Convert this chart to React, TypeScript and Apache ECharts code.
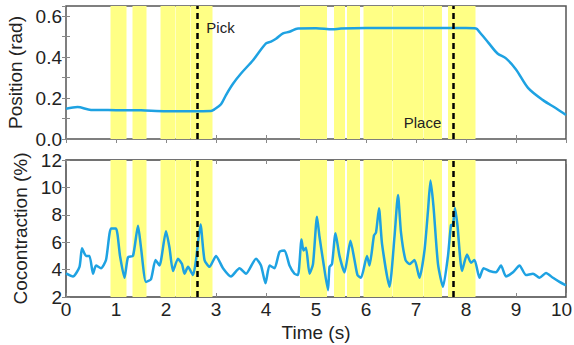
import React, { useEffect, useRef } from "react";
import * as echarts from "echarts";

const FONT = "Liberation Sans, Arial, Helvetica, sans-serif";

// Time (s) -> joint position (rad)
const position: [number, number][] = [
  [0, 0.148], [0.23, 0.156], [0.5, 0.142], [1.0, 0.141], [1.5, 0.14], [2.0, 0.136],
  [2.5, 0.136], [2.9, 0.137], [2.97, 0.145], [3.1, 0.17], [3.2, 0.215], [3.34, 0.27],
  [3.5, 0.32], [3.74, 0.385], [4.0, 0.467], [4.1, 0.476], [4.2, 0.49], [4.34, 0.516],
  [4.47, 0.524], [4.64, 0.54], [5.0, 0.541], [5.33, 0.536], [5.5, 0.54], [6.0, 0.542],
  [7.0, 0.542], [8.0, 0.542], [8.2, 0.54], [8.27, 0.523], [8.45, 0.47], [8.63, 0.418],
  [8.8, 0.394], [9.0, 0.34], [9.24, 0.25], [9.54, 0.19], [9.8, 0.15], [10, 0.117],
];

// Time (s) -> cocontraction (%)
const cocontraction: [number, number][] = [
  [0, 3.73], [0.14, 3.5], [0.27, 4.2], [0.32, 5.55], [0.4, 5.0], [0.47, 5.0], [0.54, 3.7],
  [0.6, 4.3], [0.7, 4.1], [0.8, 4.7], [0.9, 7.0], [1.0, 7.0], [1.08, 5.0], [1.17, 3.4],
  [1.24, 4.9], [1.34, 5.0], [1.44, 7.2], [1.5, 5.6], [1.6, 3.1], [1.7, 3.3], [1.79, 4.7],
  [1.87, 4.3], [2.0, 6.8], [2.07, 5.6], [2.14, 3.9], [2.24, 4.8], [2.32, 4.4], [2.37, 3.7],
  [2.44, 4.2], [2.54, 3.6], [2.6, 4.7], [2.69, 7.3], [2.77, 4.7], [2.87, 4.2], [3.0, 5.0],
  [3.14, 4.1], [3.3, 3.5], [3.47, 4.1], [3.6, 3.7], [3.8, 4.8], [3.9, 4.3], [3.99, 3.0],
  [4.07, 4.3], [4.17, 4.1], [4.27, 5.3], [4.37, 5.4], [4.47, 4.3], [4.57, 3.7], [4.64, 3.6],
  [4.71, 6.2], [4.75, 5.4], [4.8, 5.6], [4.87, 3.7], [4.94, 4.4], [5.02, 7.86], [5.07, 6.4],
  [5.14, 4.7], [5.24, 2.5], [5.27, 4.2], [5.32, 4.4], [5.39, 6.65], [5.47, 5.0], [5.57, 3.8],
  [5.69, 6.1], [5.77, 4.7], [5.83, 3.6], [5.9, 3.4], [6.02, 5.0], [6.07, 4.3], [6.16, 6.5],
  [6.2, 6.7], [6.26, 8.47], [6.32, 5.9], [6.47, 2.75], [6.57, 6.4], [6.64, 9.45], [6.7, 6.7],
  [6.79, 4.7], [6.87, 4.4], [6.97, 4.7], [7.07, 3.4], [7.17, 5.4], [7.24, 8.3], [7.29, 10.5],
  [7.35, 8.6], [7.44, 4.4], [7.54, 2.75], [7.64, 5.0], [7.7, 7.26], [7.74, 7.3], [7.78, 8.5],
  [7.83, 7.2], [7.92, 3.9], [8.02, 5.1], [8.1, 4.5], [8.17, 4.7], [8.27, 3.4], [8.35, 4.1],
  [8.47, 3.9], [8.6, 3.8], [8.7, 4.3], [8.8, 3.5], [8.94, 3.8], [9.07, 4.3], [9.2, 3.6],
  [9.34, 3.7], [9.47, 3.4], [9.6, 3.75], [9.74, 3.4], [9.87, 3.1], [9.97, 2.9], [10, 2.85],
];

// Highlighted intervals (s)
const bands: [number, number][] = [
  [0.89, 1.21], [1.33, 1.61], [1.89, 2.18], [2.19, 2.49], [2.5, 2.93],
  [4.68, 5.22], [5.36, 5.58], [5.62, 5.88], [5.95, 6.53], [6.54, 7.15],
  [7.16, 7.52], [7.64, 8.19],
];

const events: { t: number; label: string }[] = [
  { t: 2.62, label: "Pick" },
  { t: 7.75, label: "Place" },
];

const eventLabelPos: [number, number][] = [
  [3.09, 0.546],
  [7.13, 0.083],
];

const LINE_COLOR = "#1ea2e2";
const BAND_COLOR = "#ffff85";

export default function App() {
  const ref = useRef<HTMLDivElement>(null);
  useEffect(() => {
    if (!ref.current) return;
    const chart = echarts.init(ref.current, undefined, { renderer: "svg" });

    const tick = { show: true, inside: true, length: 4, lineStyle: { color: "#888", width: 1 } };
    const labelStyle = { fontFamily: FONT, fontSize: 19, color: "#222" };

    const xBase = (gridIndex: number, showLabels: boolean, pos: "top" | "bottom") => ({
      type: "value" as const,
      gridIndex,
      position: pos,
      min: 0,
      max: 10,
      interval: 1,
      axisLine: { show: false },
      axisTick: tick,
      splitLine: { show: false },
      axisLabel: showLabels
        ? {
            ...labelStyle,
            margin: 3,
            formatter: (v: number) => {
              const s = String(Math.round(v));
              return v >= 10 ? `{r|${s}}` : s;
            },
            rich: {
              r: { fontFamily: FONT, fontSize: 19, color: "#222", padding: [0, 9, 0, 0] },
            },
          }
        : { show: false },
    });

    const markArea = {
      silent: true,
      itemStyle: { color: BAND_COLOR },
      data: bands.map((b) => [{ xAxis: b[0] }, { xAxis: b[1] }]),
    };
    const markLine = {
      silent: true,
      symbol: ["none", "none"],
      label: { show: false },
      lineStyle: { color: "#000", width: 2.5, type: [6, 4] },
      data: events.map((e) => ({ xAxis: e.t })),
    };

    const option: any = {
      animation: false,
      backgroundColor: "#fff",
      grid: [
        { left: 66, top: 6, width: 500, height: 133, show: true, borderColor: "#555", borderWidth: 1.5, backgroundColor: "transparent", outerBoundsMode: "none", containLabel: false },
        { left: 66, top: 160, width: 500, height: 137, show: true, borderColor: "#444", borderWidth: 1.5, backgroundColor: "transparent", outerBoundsMode: "none", containLabel: false },
      ],
      xAxis: [
        xBase(0, false, "bottom"),
        {
          ...xBase(1, true, "bottom"),
          name: "Time (s)",
          nameLocation: "middle",
          nameGap: 26,
          nameTextStyle: { fontFamily: FONT, fontSize: 19, color: "#222" },
        },
        xBase(0, false, "top"),
        xBase(1, false, "top"),
      ],
      yAxis: [
        {
          type: "value",
          gridIndex: 0,
          min: 0,
          max: 0.65,
          interval: 0.1,
          axisLine: { show: false },
          axisTick: tick,
          splitLine: { show: false },
          axisLabel: {
            ...labelStyle,
            margin: 4,
            showMaxLabel: false,
            formatter: (v: number) => {
              const k = Math.round(v * 10);
              return k % 2 === 0 && k <= 6 ? (k / 10).toFixed(1) : "";
            },
          },
          name: "Position (rad)",
          nameLocation: "middle",
          nameGap: 31,
          nameTextStyle: { fontFamily: FONT, fontSize: 19, color: "#222" },
        },
        {
          type: "value",
          gridIndex: 1,
          min: 2,
          max: 12,
          interval: 2,
          axisLine: { show: false },
          axisTick: tick,
          splitLine: { show: false },
          axisLabel: { ...labelStyle, margin: 4 },
          name: "Cocontraction (%)",
          nameLocation: "middle",
          nameGap: 31,
          nameTextStyle: { fontFamily: FONT, fontSize: 19, color: "#222" },
        },
        {
          type: "value", gridIndex: 0, position: "right", min: 0, max: 0.65, interval: 0.1,
          axisLine: { show: false }, axisTick: tick, splitLine: { show: false }, axisLabel: { show: false },
        },
        {
          type: "value", gridIndex: 1, position: "right", min: 2, max: 12, interval: 2,
          axisLine: { show: false }, axisTick: tick, splitLine: { show: false }, axisLabel: { show: false },
        },
      ],
      series: [
        {
          type: "line",
          xAxisIndex: 0,
          yAxisIndex: 0,
          data: position,
          showSymbol: false,
          smooth: 0.3,
          lineStyle: { color: LINE_COLOR, width: 2.5 },
          markArea,
          markLine,
          markPoint: {
            silent: true,
            symbol: "circle",
            symbolSize: 0,
            label: {
              show: true,
              position: "inside",
              fontFamily: FONT,
              fontSize: 15,
              color: "#222",
              formatter: (p: any) => p.name,
            },
            data: events.map((e, i) => ({ name: e.label, coord: eventLabelPos[i] })),
          },
          z: 3,
        },
        {
          type: "line",
          xAxisIndex: 1,
          yAxisIndex: 1,
          data: cocontraction,
          showSymbol: false,
          smooth: 0.2,
          lineStyle: { color: LINE_COLOR, width: 2.5 },
          markArea,
          markLine,
          z: 3,
        },
      ],
    };
    chart.setOption(option);
    return () => chart.dispose();
  }, []);

  return (
    <div
      ref={ref}
      style={{ position: "absolute", left: 0, top: 0, width: 574, height: 345, background: "#fff" }}
    />
  );
}
